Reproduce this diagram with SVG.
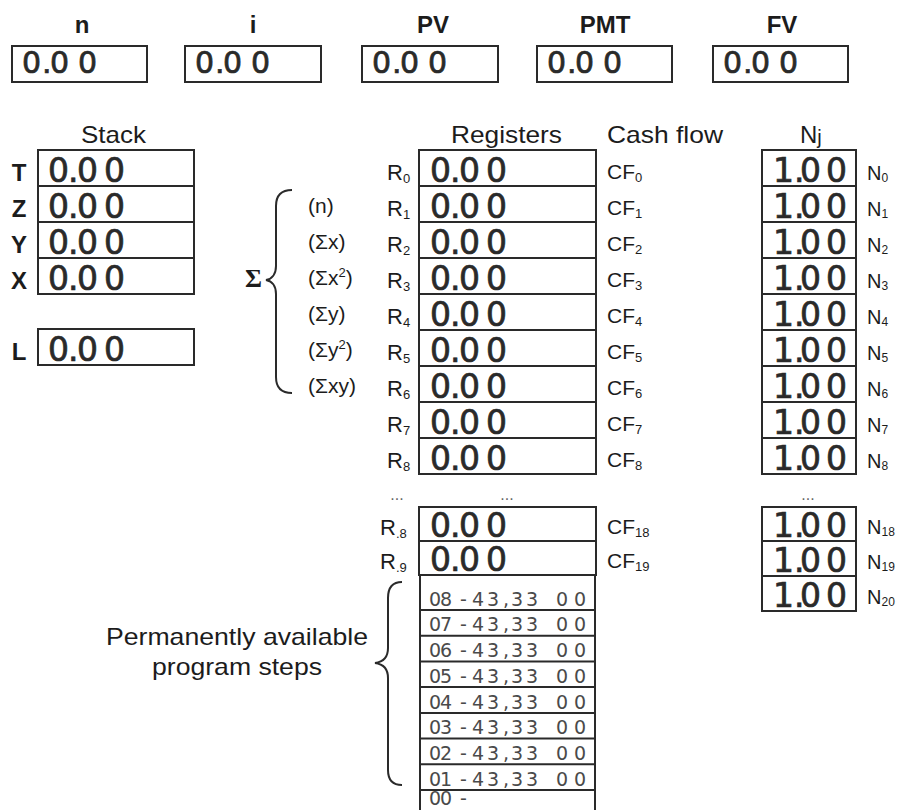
<svg xmlns="http://www.w3.org/2000/svg" width="900" height="810" viewBox="0 0 900 810">
<style>
 text { font-family: "Liberation Sans", Arial, sans-serif; fill: #1c1c1c; }
 .hdr { font-size: 24px; }
 .top { font-size: 24px; font-weight: bold; text-anchor: middle; }
 .stk { font-size: 24px; font-weight: bold; text-anchor: middle; }
 .reg { font-size: 22px; }
 .sub { font-size: 13px; }
 .cf { font-size: 21px; }
 .nl { font-size: 20px; }
 .nsub { font-size: 12px; }
 .sig { font-size: 21px; }
 .d30 { font-family: "DejaVu Sans", sans-serif; font-size: 30px; fill: #2a2a2a; stroke: #2a2a2a; stroke-width: 0.7; }
 .d34 { font-family: "DejaVu Sans", sans-serif; font-size: 33px; fill: #2a2a2a; stroke: #2a2a2a; stroke-width: 0.7; }
 .d19 { font-family: "DejaVu Sans", sans-serif; font-size: 19px; fill: #4a4a4a; }
 .dots { font-size: 16px; fill: #666; text-anchor: middle; }
 .box { fill: #fff; stroke: #2a2a2a; stroke-width: 2; }
 .ln { stroke: #2a2a2a; stroke-width: 2; fill: none; }
 .brace { fill: none; stroke: #2a2a2a; stroke-width: 2; }
</style>

<!-- Top financial registers -->
<g id="reg-n">
 <text class="top" x="82" y="33">n</text>
 <rect class="box" x="12" y="46" width="135" height="36"/>
 <text class="d30" x="22 42 50 78" y="73">0.00</text>
</g>
<g id="reg-i">
 <text class="top" x="253" y="33">i</text>
 <rect class="box" x="185" y="46" width="136" height="36"/>
 <text class="d30" x="195 215 223 251" y="73">0.00</text>
</g>
<g id="reg-pv">
 <text class="top" x="433" y="33">PV</text>
 <rect class="box" x="362" y="46" width="136" height="36"/>
 <text class="d30" x="372 392 400 428" y="73">0.00</text>
</g>
<g id="reg-pmt">
 <text class="top" x="605" y="33">PMT</text>
 <rect class="box" x="537" y="46" width="135" height="36"/>
 <text class="d30" x="547 567 575 603" y="73">0.00</text>
</g>
<g id="reg-fv">
 <text class="top" x="782" y="33">FV</text>
 <rect class="box" x="713" y="46" width="135" height="36"/>
 <text class="d30" x="723 743 751 779" y="73">0.00</text>
</g>

<!-- Stack -->
<g id="stack">
 <text class="hdr" x="81" y="143" textLength="65" lengthAdjust="spacingAndGlyphs">Stack</text>
 <rect class="box" x="38" y="150" width="156" height="144"/>
 <line class="ln" x1="38" y1="186" x2="194" y2="186"/>
 <line class="ln" x1="38" y1="222" x2="194" y2="222"/>
 <line class="ln" x1="38" y1="258" x2="194" y2="258"/>
 <text class="stk" x="19" y="181">T</text>
 <text class="stk" x="19" y="217">Z</text>
 <text class="stk" x="19" y="253">Y</text>
 <text class="stk" x="19" y="289">X</text>
 <text class="d34" x="48 68 77 104" y="182">0.00</text>
 <text class="d34" x="48 68 77 104" y="218">0.00</text>
 <text class="d34" x="48 68 77 104" y="254">0.00</text>
 <text class="d34" x="48 68 77 104" y="290">0.00</text>
</g>
<g id="last-x">
 <rect class="box" x="38" y="329" width="156" height="36"/>
 <text class="stk" x="19" y="360">L</text>
 <text class="d34" x="48 68 77 104" y="361">0.00</text>
</g>

<!-- Sigma brace -->
<g id="sigma">
 <text x="245" y="287" style="font-family:'Liberation Serif',serif;font-size:26px;font-weight:bold">Σ</text>
 <path class="brace" d="M292,190 C281,190 276,196 276,206 L276,266 C276,274 272,279 266,280 C272,281 276,286 276,294 L276,377 C276,387 281,393 292,393"/>
 <text class="sig" x="308" y="213">(n)</text>
 <text class="sig" x="308" y="249">(Σx)</text>
 <text class="sig" x="308" y="285">(Σx<tspan class="sub" dy="-8">2</tspan><tspan dy="8">)</tspan></text>
 <text class="sig" x="308" y="321">(Σy)</text>
 <text class="sig" x="308" y="357">(Σy<tspan class="sub" dy="-8">2</tspan><tspan dy="8">)</tspan></text>
 <text class="sig" x="308" y="393">(Σxy)</text>
</g>

<!-- Registers -->
<g id="registers">
 <text class="hdr" x="451" y="143" textLength="111" lengthAdjust="spacingAndGlyphs">Registers</text>
 <rect class="box" x="419" y="150" width="177" height="324"/>
 <line class="ln" x1="419" y1="186" x2="596" y2="186"/>
 <line class="ln" x1="419" y1="222" x2="596" y2="222"/>
 <line class="ln" x1="419" y1="258" x2="596" y2="258"/>
 <line class="ln" x1="419" y1="294" x2="596" y2="294"/>
 <line class="ln" x1="419" y1="330" x2="596" y2="330"/>
 <line class="ln" x1="419" y1="366" x2="596" y2="366"/>
 <line class="ln" x1="419" y1="402" x2="596" y2="402"/>
 <line class="ln" x1="419" y1="438" x2="596" y2="438"/>
 <text class="reg" x="387" y="180">R<tspan class="sub" dy="3">0</tspan></text>
 <text class="reg" x="387" y="216">R<tspan class="sub" dy="3">1</tspan></text>
 <text class="reg" x="387" y="252">R<tspan class="sub" dy="3">2</tspan></text>
 <text class="reg" x="387" y="288">R<tspan class="sub" dy="3">3</tspan></text>
 <text class="reg" x="387" y="324">R<tspan class="sub" dy="3">4</tspan></text>
 <text class="reg" x="387" y="360">R<tspan class="sub" dy="3">5</tspan></text>
 <text class="reg" x="387" y="396">R<tspan class="sub" dy="3">6</tspan></text>
 <text class="reg" x="387" y="432">R<tspan class="sub" dy="3">7</tspan></text>
 <text class="reg" x="387" y="468">R<tspan class="sub" dy="3">8</tspan></text>
 <text class="d34" x="430 450 459 486" y="182">0.00</text>
 <text class="d34" x="430 450 459 486" y="218">0.00</text>
 <text class="d34" x="430 450 459 486" y="254">0.00</text>
 <text class="d34" x="430 450 459 486" y="290">0.00</text>
 <text class="d34" x="430 450 459 486" y="326">0.00</text>
 <text class="d34" x="430 450 459 486" y="362">0.00</text>
 <text class="d34" x="430 450 459 486" y="398">0.00</text>
 <text class="d34" x="430 450 459 486" y="434">0.00</text>
 <text class="d34" x="430 450 459 486" y="470">0.00</text>
</g>
<g id="registers-high">
 <text class="dots" x="397" y="500">...</text>
 <text class="dots" x="507" y="500">...</text>
 <rect class="box" x="419" y="507" width="177" height="68"/>
 <line class="ln" x1="419" y1="541" x2="596" y2="541"/>
 <text class="reg" x="380" y="535">R<tspan class="sub" dy="3">.8</tspan></text>
 <text class="reg" x="380" y="569">R<tspan class="sub" dy="3">.9</tspan></text>
 <text class="d34" x="430 450 459 486" y="537">0.00</text>
 <text class="d34" x="430 450 459 486" y="571">0.00</text>
</g>

<!-- Cash flow labels -->
<g id="cashflow">
 <text class="hdr" x="607" y="143" textLength="116" lengthAdjust="spacingAndGlyphs">Cash flow</text>
 <text class="cf" x="607" y="179">CF<tspan class="sub" dy="3">0</tspan></text>
 <text class="cf" x="607" y="215">CF<tspan class="sub" dy="3">1</tspan></text>
 <text class="cf" x="607" y="251">CF<tspan class="sub" dy="3">2</tspan></text>
 <text class="cf" x="607" y="287">CF<tspan class="sub" dy="3">3</tspan></text>
 <text class="cf" x="607" y="323">CF<tspan class="sub" dy="3">4</tspan></text>
 <text class="cf" x="607" y="359">CF<tspan class="sub" dy="3">5</tspan></text>
 <text class="cf" x="607" y="395">CF<tspan class="sub" dy="3">6</tspan></text>
 <text class="cf" x="607" y="431">CF<tspan class="sub" dy="3">7</tspan></text>
 <text class="cf" x="607" y="467">CF<tspan class="sub" dy="3">8</tspan></text>
 <text class="cf" x="607" y="534">CF<tspan class="sub" dy="3">18</tspan></text>
 <text class="cf" x="607" y="568">CF<tspan class="sub" dy="3">19</tspan></text>
</g>

<!-- Nj -->
<g id="nj">
 <text class="hdr" x="800" y="143">N<tspan style="font-size:20px" dy="1">j</tspan></text>
 <rect class="box" x="762" y="150" width="94" height="324"/>
 <line class="ln" x1="762" y1="186" x2="856" y2="186"/>
 <line class="ln" x1="762" y1="222" x2="856" y2="222"/>
 <line class="ln" x1="762" y1="258" x2="856" y2="258"/>
 <line class="ln" x1="762" y1="294" x2="856" y2="294"/>
 <line class="ln" x1="762" y1="330" x2="856" y2="330"/>
 <line class="ln" x1="762" y1="366" x2="856" y2="366"/>
 <line class="ln" x1="762" y1="402" x2="856" y2="402"/>
 <line class="ln" x1="762" y1="438" x2="856" y2="438"/>
 <text class="d34" x="773 794 800 826" y="182">1.00</text>
 <text class="d34" x="773 794 800 826" y="218">1.00</text>
 <text class="d34" x="773 794 800 826" y="254">1.00</text>
 <text class="d34" x="773 794 800 826" y="290">1.00</text>
 <text class="d34" x="773 794 800 826" y="326">1.00</text>
 <text class="d34" x="773 794 800 826" y="362">1.00</text>
 <text class="d34" x="773 794 800 826" y="398">1.00</text>
 <text class="d34" x="773 794 800 826" y="434">1.00</text>
 <text class="d34" x="773 794 800 826" y="470">1.00</text>
 <text class="nl" x="867" y="180">N<tspan class="nsub" dy="2">0</tspan></text>
 <text class="nl" x="867" y="216">N<tspan class="nsub" dy="2">1</tspan></text>
 <text class="nl" x="867" y="252">N<tspan class="nsub" dy="2">2</tspan></text>
 <text class="nl" x="867" y="288">N<tspan class="nsub" dy="2">3</tspan></text>
 <text class="nl" x="867" y="324">N<tspan class="nsub" dy="2">4</tspan></text>
 <text class="nl" x="867" y="360">N<tspan class="nsub" dy="2">5</tspan></text>
 <text class="nl" x="867" y="396">N<tspan class="nsub" dy="2">6</tspan></text>
 <text class="nl" x="867" y="432">N<tspan class="nsub" dy="2">7</tspan></text>
 <text class="nl" x="867" y="468">N<tspan class="nsub" dy="2">8</tspan></text>
</g>
<g id="nj-high">
 <text class="dots" x="808" y="500">...</text>
 <rect class="box" x="762" y="507" width="94" height="104"/>
 <line class="ln" x1="762" y1="541" x2="856" y2="541"/>
 <line class="ln" x1="762" y1="576" x2="856" y2="576"/>
 <text class="d34" x="773 794 800 826" y="537">1.00</text>
 <text class="d34" x="773 794 800 826" y="572">1.00</text>
 <text class="d34" x="773 794 800 826" y="607">1.00</text>
 <text class="nl" x="867" y="534">N<tspan class="nsub" dy="2">18</tspan></text>
 <text class="nl" x="867" y="569">N<tspan class="nsub" dy="2">19</tspan></text>
 <text class="nl" x="867" y="604">N<tspan class="nsub" dy="2">20</tspan></text>
</g>

<!-- Program steps -->
<g id="program">
 <path class="ln" d="M420,575 L420,812 M595,575 L595,812"/>
 <line class="ln" x1="420" y1="610" x2="595" y2="610"/>
 <line class="ln" x1="420" y1="635.7" x2="595" y2="635.7"/>
 <line class="ln" x1="420" y1="661.4" x2="595" y2="661.4"/>
 <line class="ln" x1="420" y1="687.1" x2="595" y2="687.1"/>
 <line class="ln" x1="420" y1="712.9" x2="595" y2="712.9"/>
 <line class="ln" x1="420" y1="738.6" x2="595" y2="738.6"/>
 <line class="ln" x1="420" y1="764.3" x2="595" y2="764.3"/>
 <line class="ln" x1="420" y1="790" x2="595" y2="790"/>
 <text class="d19" x="429 440 460 472 487 503 511 526" y="605.5">08-43,33</text><text class="d19" x="556 574" y="605.5">00</text>
 <text class="d19" x="429 440 460 472 487 503 511 526" y="631">07-43,33</text><text class="d19" x="556 574" y="631">00</text>
 <text class="d19" x="429 440 460 472 487 503 511 526" y="657">06-43,33</text><text class="d19" x="556 574" y="657">00</text>
 <text class="d19" x="429 440 460 472 487 503 511 526" y="682.5">05-43,33</text><text class="d19" x="556 574" y="682.5">00</text>
 <text class="d19" x="429 440 460 472 487 503 511 526" y="708.5">04-43,33</text><text class="d19" x="556 574" y="708.5">00</text>
 <text class="d19" x="429 440 460 472 487 503 511 526" y="734">03-43,33</text><text class="d19" x="556 574" y="734">00</text>
 <text class="d19" x="429 440 460 472 487 503 511 526" y="760">02-43,33</text><text class="d19" x="556 574" y="760">00</text>
 <text class="d19" x="429 440 460 472 487 503 511 526" y="785.5">01-43,33</text><text class="d19" x="556 574" y="785.5">00</text>
 <text class="d19" x="429 440 460" y="805">00-</text>
</g>
<g id="program-label">
 <path class="brace" d="M402,582 C392,582 388,588 388,598 L388,648 C388,657 383,662 375,663 C383,664 388,669 388,678 L388,770 C388,780 392,785 402,785"/>
 <text class="hdr" x="106" y="645" textLength="262" lengthAdjust="spacingAndGlyphs">Permanently available</text>
 <text class="hdr" x="152" y="675" textLength="170" lengthAdjust="spacingAndGlyphs">program steps</text>
</g>
</svg>
